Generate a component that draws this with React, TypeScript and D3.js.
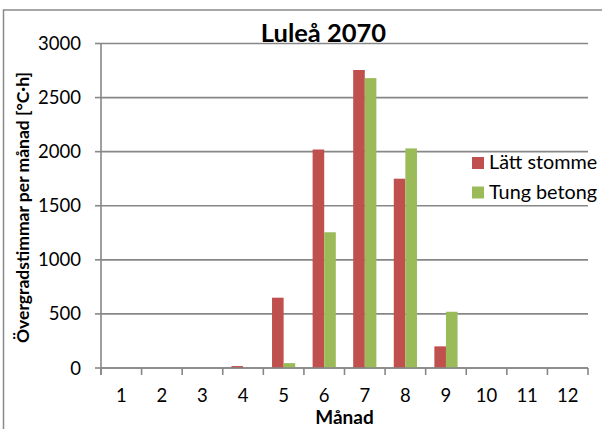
import React from "react";
import * as d3 from "d3";

const months = ["1", "2", "3", "4", "5", "6", "7", "8", "9", "10", "11", "12"];
const seriesNames = ["Lätt stomme", "Tung betong"];
const lattStomme = [0, 0, 0, 18, 650, 2020, 2755, 1750, 200, 0, 0, 0];
const tungBetong = [0, 0, 0, 0, 45, 1255, 2680, 2030, 520, 0, 0, 0];
const yTicks = [0, 500, 1000, 1500, 2000, 2500, 3000];
const colors = ["#C0504D", "#9BBB59"];

const W = 602;
const H = 429;
const left = 101;
const right = 588;
const top = 43.5;
const bottom = 368;
const font = "Lato, 'Open Sans', sans-serif";
const gridColor = "#878787";

export default function App() {
  const x0 = d3.scaleBand<string>().domain(months).range([left, right]).padding(0);
  const bw = x0.bandwidth();
  const gap = (bw * 1.5) / 3.5;
  const x1 = d3.scaleBand<string>().domain(seriesNames).range([gap / 2, bw - gap / 2]).padding(0);
  const y = d3.scaleLinear().domain([0, 3000]).range([bottom, top]);
  const values = [lattStomme, tungBetong];
  const boundaries = d3.range(months.length + 1).map((i) => left + i * bw);

  return (
    <svg
      width={W}
      height={H}
      style={{ position: "absolute", left: 0, top: 0, display: "block", background: "#fff" }}
    >
      {/* chart frame */}
      <rect x={3.5} y={10} width={W + 10} height={H + 10} fill="none" stroke="#8a8a8a" strokeWidth={1.5} />

      {/* horizontal gridlines */}
      {yTicks.map((t) => (
        <line key={"g" + t} x1={left} x2={right} y1={y(t)} y2={y(t)} stroke={gridColor} strokeWidth={1.6} />
      ))}

      {/* bars */}
      {values.map((vals, si) =>
        vals.map((v, mi) => (
          <rect
            key={si + "-" + mi}
            x={(x0(months[mi]) as number) + (x1(seriesNames[si]) as number)}
            y={y(v)}
            width={x1.bandwidth()}
            height={bottom - y(v)}
            fill={colors[si]}
          />
        ))
      )}

      {/* y axis */}
      <line x1={left} x2={left} y1={top} y2={bottom + 7} stroke={gridColor} strokeWidth={1.6} />
      {yTicks.map((t) => (
        <g key={"yt" + t}>
          <line x1={left - 6} x2={left} y1={y(t)} y2={y(t)} stroke={gridColor} strokeWidth={1.6} />
          <text x={81} y={y(t) + 6.5} textAnchor="end" fontFamily={font} fontSize={18.5} fill="#000">
            {t}
          </text>
        </g>
      ))}

      {/* x axis */}
      <line x1={left} x2={right} y1={bottom} y2={bottom} stroke={gridColor} strokeWidth={1.6} />
      {boundaries.map((b, i) => (
        <line key={"xt" + i} x1={b} x2={b} y1={bottom} y2={bottom + 7} stroke={gridColor} strokeWidth={1.6} />
      ))}
      {months.map((m) => (
        <text
          key={"xl" + m}
          x={(x0(m) as number) + bw / 2}
          y={401.5}
          textAnchor="middle"
          fontFamily={font}
          fontSize={18.5}
          fill="#000"
        >
          {m}
        </text>
      ))}

      {/* titles */}
      <text x={323.5} y={41.5} textAnchor="middle" fontFamily={font} fontWeight="bold" fontSize={25.5} fill="#000">
        Luleå 2070
      </text>
      <text x={344.5} y={423.5} textAnchor="middle" fontFamily={font} fontWeight="bold" fontSize={19} fill="#000">
        Månad
      </text>
      <text
        transform="translate(29,207.5) rotate(-90)"
        textAnchor="middle"
        fontFamily={font}
        fontWeight="bold"
        fontSize={17.5}
        fill="#000"
      >
        Övergradstimmar per månad [°C·h]
      </text>

      {/* legend */}
      {seriesNames.map((s, i) => (
        <g key={"lg" + s} transform={`translate(472,${157 + i * 29.5})`}>
          <rect x={0} y={0} width={12} height={12} fill={colors[i]} />
          <text x={17} y={12} fontFamily={font} fontSize={19.8} fill="#000">
            {s}
          </text>
        </g>
      ))}
    </svg>
  );
}
